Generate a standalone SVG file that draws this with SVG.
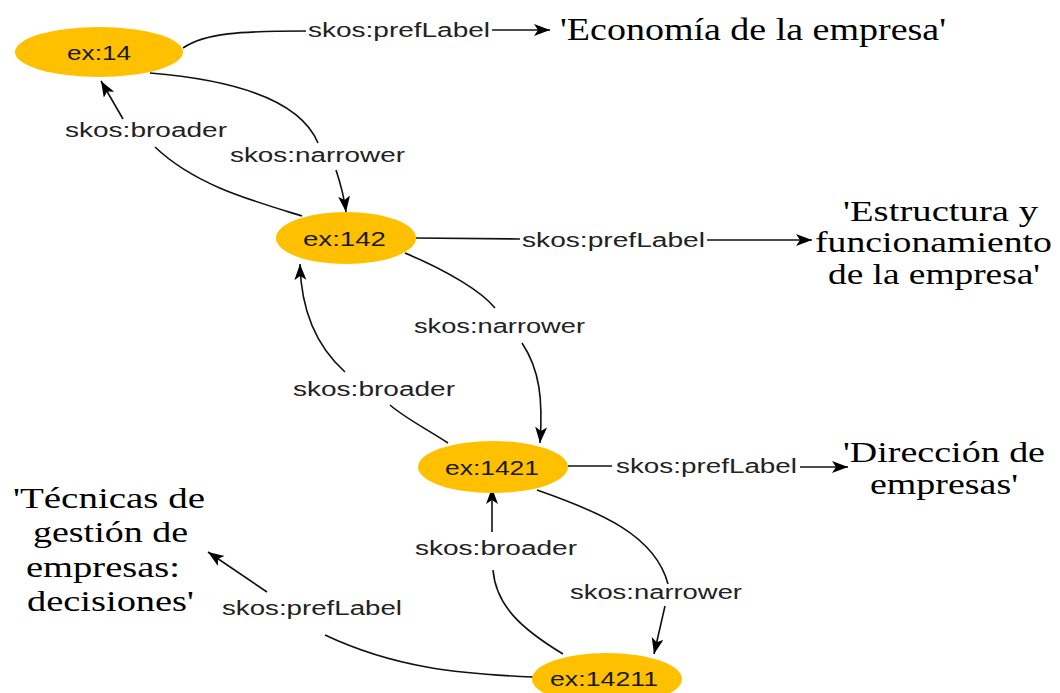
<svg xmlns="http://www.w3.org/2000/svg" width="1060" height="693" viewBox="0 0 1060 693">
  <style>
    .node { fill: #FFC000; }
    .ntext { font-family: "Liberation Sans", Arial, sans-serif; font-size: 21px; fill: #1a1a1a; }
    .elabel { font-family: "Liberation Sans", Arial, sans-serif; font-size: 20px; fill: #222; }
    .lit { font-family: "Liberation Serif", "Times New Roman", serif; font-size: 32px; fill: #000; }
    .lit-ml { font-family: "Liberation Serif", "Times New Roman", serif; font-size: 29px; fill: #000; }
    .edge { fill: none; stroke: #111; stroke-width: 1.6; }
  </style>
  <defs>
    <marker id="arrow" markerUnits="userSpaceOnUse" markerWidth="18" markerHeight="14" refX="16" refY="6" orient="auto">
      <path d="M0,0 L16,6 L0,12 L4,6 z" fill="#000"/>
    </marker>
  </defs>
  <rect width="1060" height="693" fill="#fff"/>

  <!-- connectors -->
  <g id="edges">
    <!-- ex:14 prefLabel -->
    <path class="edge" d="M183,48 C205,33 240,31 306,31"/>
    <path class="edge" d="M492,30 L550,30" marker-end="url(#arrow)"/>
    <!-- ex:14 narrower ex:142 -->
    <path class="edge" d="M150,73 C235,80 300,100 318,143"/>
    <path class="edge" d="M336,170 C341,185 344,196 346,212" marker-end="url(#arrow)"/>
    <!-- ex:142 broader ex:14 -->
    <path class="edge" d="M302,216 C250,200 195,185 155,147"/>
    <path class="edge" d="M123,119 L101,81" marker-end="url(#arrow)"/>
    <!-- ex:142 prefLabel -->
    <path class="edge" d="M416,238 L520,239"/>
    <path class="edge" d="M707,240 L812,240" marker-end="url(#arrow)"/>
    <!-- ex:142 narrower ex:1421 -->
    <path class="edge" d="M405,253 C450,272 482,292 495,308"/>
    <path class="edge" d="M522,343 C540,370 543,400 540,443" marker-end="url(#arrow)"/>
    <!-- ex:1421 broader ex:142 -->
    <path class="edge" d="M448,443 C425,428 405,418 390,405"/>
    <path class="edge" d="M345,372 C315,345 301,310 300,264" marker-end="url(#arrow)"/>
    <!-- ex:1421 prefLabel -->
    <path class="edge" d="M568,466 L612,466"/>
    <path class="edge" d="M800,467 L848,467" marker-end="url(#arrow)"/>
    <!-- ex:1421 narrower ex:14211 -->
    <path class="edge" d="M537,490 C600,512 655,535 668,584"/>
    <path class="edge" d="M665,606 L654,654" marker-end="url(#arrow)"/>
    <!-- ex:14211 broader ex:1421 -->
    <path class="edge" d="M563,654 C520,628 496,605 493,570"/>
    <path class="edge" d="M492,532 L492,488" marker-end="url(#arrow)"/>
    <!-- ex:14211 prefLabel -->
    <path class="edge" d="M533,677 C460,674 395,668 325,635"/>
    <path class="edge" d="M267,592 L208,552" marker-end="url(#arrow)"/>
  </g>

  <!-- edge labels -->
  <g id="edge-labels">
    <text class="elabel" x="308" y="37" textLength="182" lengthAdjust="spacingAndGlyphs">skos:prefLabel</text>
    <text class="elabel" x="65" y="137" textLength="162" lengthAdjust="spacingAndGlyphs">skos:broader</text>
    <text class="elabel" x="230" y="162" textLength="175" lengthAdjust="spacingAndGlyphs">skos:narrower</text>
    <text class="elabel" x="522" y="247" textLength="183" lengthAdjust="spacingAndGlyphs">skos:prefLabel</text>
    <text class="elabel" x="414" y="333" textLength="171" lengthAdjust="spacingAndGlyphs">skos:narrower</text>
    <text class="elabel" x="293" y="396" textLength="162" lengthAdjust="spacingAndGlyphs">skos:broader</text>
    <text class="elabel" x="616" y="473" textLength="181" lengthAdjust="spacingAndGlyphs">skos:prefLabel</text>
    <text class="elabel" x="415" y="555" textLength="162" lengthAdjust="spacingAndGlyphs">skos:broader</text>
    <text class="elabel" x="570" y="599" textLength="172" lengthAdjust="spacingAndGlyphs">skos:narrower</text>
    <text class="elabel" x="222" y="615" textLength="180" lengthAdjust="spacingAndGlyphs">skos:prefLabel</text>
  </g>

  <!-- concept nodes -->
  <g id="ex14">
    <ellipse class="node" cx="99" cy="52" rx="84" ry="25"/>
    <text class="ntext" x="67" y="60" textLength="64" lengthAdjust="spacingAndGlyphs">ex:14</text>
  </g>
  <g id="ex142">
    <ellipse class="node" cx="346" cy="238" rx="70" ry="26"/>
    <text class="ntext" x="303" y="246" textLength="83" lengthAdjust="spacingAndGlyphs">ex:142</text>
  </g>
  <g id="ex1421">
    <ellipse class="node" cx="493" cy="467" rx="75" ry="26"/>
    <text class="ntext" x="445" y="475" textLength="94" lengthAdjust="spacingAndGlyphs">ex:1421</text>
  </g>
  <g id="ex14211">
    <ellipse class="node" cx="607" cy="679" rx="75" ry="26"/>
    <text class="ntext" x="550" y="686" textLength="108" lengthAdjust="spacingAndGlyphs">ex:14211</text>
  </g>

  <!-- literal values -->
  <g id="lit-14">
    <text class="lit" x="560" y="40" textLength="386" lengthAdjust="spacingAndGlyphs">'Economía de la empresa'</text>
  </g>
  <g id="lit-142">
    <text class="lit-ml" x="843" y="221" textLength="195" lengthAdjust="spacingAndGlyphs">'Estructura y</text>
    <text class="lit-ml" x="815" y="252" textLength="237" lengthAdjust="spacingAndGlyphs">funcionamiento</text>
    <text class="lit-ml" x="828" y="284" textLength="212" lengthAdjust="spacingAndGlyphs">de la empresa'</text>
  </g>
  <g id="lit-1421">
    <text class="lit-ml" x="843" y="462" textLength="202" lengthAdjust="spacingAndGlyphs">'Dirección de</text>
    <text class="lit-ml" x="870" y="494" textLength="148" lengthAdjust="spacingAndGlyphs">empresas'</text>
  </g>
  <g id="lit-14211">
    <text class="lit-ml" x="13" y="508" textLength="192" lengthAdjust="spacingAndGlyphs">'Técnicas de</text>
    <text class="lit-ml" x="33" y="542" textLength="155" lengthAdjust="spacingAndGlyphs">gestión de</text>
    <text class="lit-ml" x="26" y="577" textLength="154" lengthAdjust="spacingAndGlyphs">empresas:</text>
    <text class="lit-ml" x="27" y="611" textLength="167" lengthAdjust="spacingAndGlyphs">decisiones'</text>
  </g>
</svg>
